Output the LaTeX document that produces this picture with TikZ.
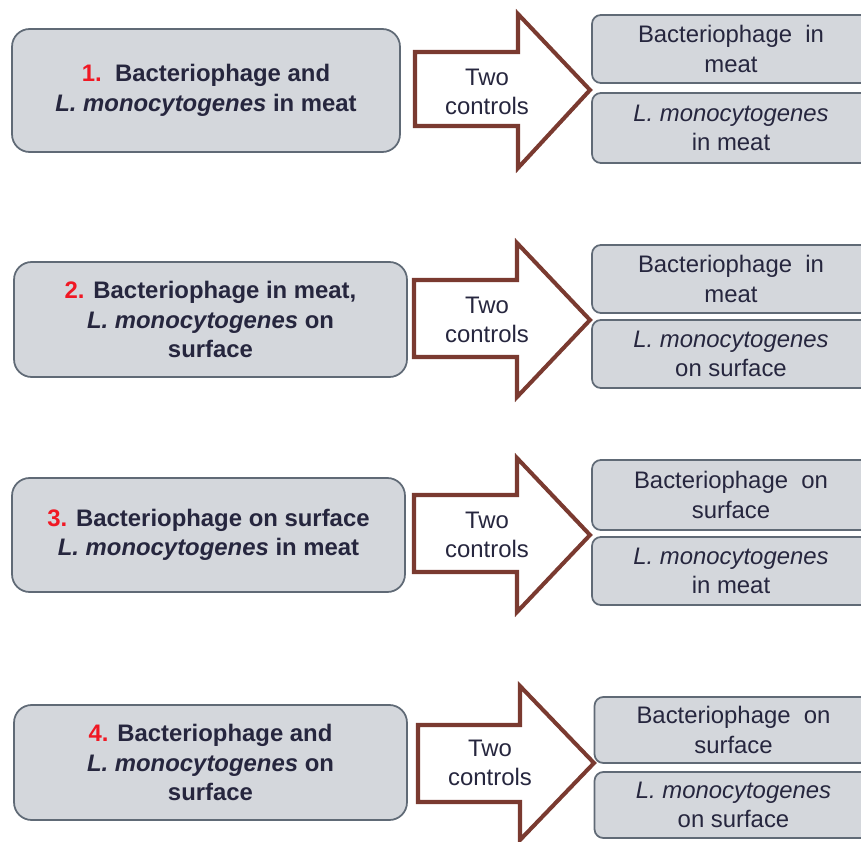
\documentclass[tikz,border=0pt]{standalone}
\usepackage{fontspec}
\setmainfont{Liberation Sans}
\usetikzlibrary{positioning}
\definecolor{cfondo}{RGB}{212,215,220}
\definecolor{cborde}{RGB}{96,106,118}
\definecolor{cflecha}{RGB}{122,58,48}
\definecolor{ctexto}{RGB}{38,38,62}
\definecolor{cnum}{RGB}{240,24,36}

\begin{document}
\begin{tikzpicture}[x=0.02cm, y=-0.02cm,
    font=\fontsize{13.6}{16.8}\selectfont, text=ctexto,
    execute at begin node={\rule{0pt}{16.5pt}},
    caso/.style={draw=cborde, line width=1pt, rounded corners=10pt, fill=cfondo, align=center, font=\fontsize{13.6}{16.8}\selectfont\bfseries, inner sep=2pt},
    ctrl/.style={draw=cborde, line width=1pt, rounded corners=5pt, fill=cfondo, align=center, minimum width=5.56cm, inner sep=2pt},
    flecha/.style={draw=cflecha, line width=2.3pt, fill=white}]

  \clip (0,0) rectangle (861,841);

  % casos
  \node[caso, minimum width=7.76cm, minimum height=2.46cm] (caso1) at (206,90.5) {\textcolor{cnum}{1.}\ \ Bacteriophage and\\\textit{L. monocytogenes} in meat};
  \node[caso, minimum width=7.86cm, minimum height=2.30cm] (caso2) at (210.5,319.5) {\textcolor{cnum}{2.} Bacteriophage in meat,\\\textit{L. monocytogenes} on\\surface};
  \node[caso, minimum width=7.86cm, minimum height=2.28cm] (caso3) at (208.5,535) {\textcolor{cnum}{3.} Bacteriophage on surface\\\textit{L. monocytogenes} in meat};
  \node[caso, minimum width=7.86cm, minimum height=2.30cm] (caso4) at (210.5,762.5) {\textcolor{cnum}{4.} Bacteriophage and\\\textit{L. monocytogenes} on\\surface};

  % flechas
  \draw[flecha] (415,52) -- (518,52) -- (518,14) -- (590,90) -- (518,168) -- (518,126) -- (415,126) -- cycle;
  \draw[flecha] (414,280) -- (517,280) -- (517,243) -- (590,320) -- (517,397) -- (517,357) -- (414,357) -- cycle;
  \draw[flecha] (414,495) -- (517,495) -- (517,458) -- (590,535) -- (517,612) -- (517,572) -- (414,572) -- cycle;
  \draw[flecha] (418,725) -- (520,725) -- (520,686) -- (594,763) -- (520,840) -- (520,802) -- (418,802) -- cycle;
  \node[align=center] (dos1) at (487,92) {Two\\controls};
  \node[align=center] (dos2) at (487,320) {Two\\controls};
  \node[align=center] (dos3) at (487,535) {Two\\controls};
  \node[align=center] (dos4) at (490,763) {Two\\controls};

  % controles
  \node[ctrl, minimum height=1.36cm] (fago1) at (731,49) {Bacteriophage\ \ in\\meat};
  \node[ctrl, minimum height=1.40cm] (lis1) at (731,128) {\textit{L. monocytogenes}\\in meat};
  \node[ctrl, minimum height=1.36cm] (fago2) at (731,279) {Bacteriophage\ \ in\\meat};
  \node[ctrl, minimum height=1.36cm] (lis2) at (731,354) {\textit{L. monocytogenes}\\on surface};
  \node[ctrl, minimum height=1.40cm] (fago3) at (731,495) {Bacteriophage\ \ on\\surface};
  \node[ctrl, minimum height=1.36cm] (lis3) at (731,571) {\textit{L. monocytogenes}\\in meat};
  \node[ctrl, minimum height=1.32cm] (fago4) at (733.5,730) {Bacteriophage\ \ on\\surface};
  \node[ctrl, minimum height=1.32cm] (lis4) at (733.5,805) {\textit{L. monocytogenes}\\on surface};
\end{tikzpicture}
\end{document}
